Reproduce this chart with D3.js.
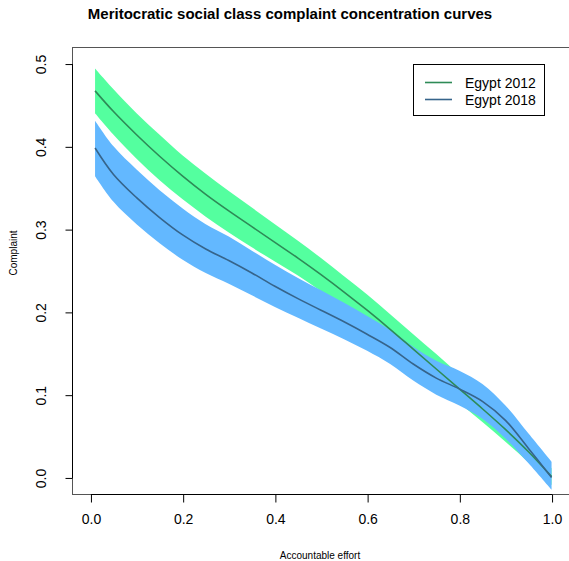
<!DOCTYPE html>
<html>
<head>
<meta charset="utf-8">
<script src="https://cdn.jsdelivr.net/npm/d3@7/dist/d3.min.js"></script>
<style>
  html, body { margin: 0; padding: 0; background: #fff; }
  svg { display: block; font-family: "Liberation Sans", Arial, Helvetica, sans-serif; }
</style>
</head>
<body>
<svg id="chart" width="569" height="561"></svg>
<script>
// Accountable effort grid (shared by both surveys)
const effort = [0.01, 0.05, 0.10, 0.15, 0.20, 0.25, 0.30, 0.35, 0.40, 0.45, 0.50,
                0.55, 0.60, 0.65, 0.70, 0.75, 0.80, 0.85, 0.90, 0.95, 1.00];

// Egypt 2012: concentration curve with its confidence band
const egypt2012 = [0.467, 0.442, 0.414, 0.388, 0.364, 0.342, 0.322, 0.303, 0.284, 0.265, 0.245,
                   0.224, 0.202, 0.179, 0.155, 0.131, 0.107, 0.083, 0.058, 0.031, 0.001];
const egypt2012Upper = [0.494, 0.469, 0.440, 0.414, 0.389, 0.367, 0.346, 0.326, 0.306, 0.286, 0.265,
                        0.243, 0.221, 0.197, 0.173, 0.149, 0.124, 0.099, 0.073, 0.044, 0.011];
const egypt2012Lower = [0.440, 0.414, 0.385, 0.359, 0.336, 0.315, 0.296, 0.278, 0.261, 0.244, 0.225,
                        0.205, 0.183, 0.161, 0.137, 0.113, 0.090, 0.067, 0.043, 0.018, -0.009];

// Egypt 2018: concentration curve with its confidence band
const egypt2018 = [0.398, 0.366, 0.338, 0.314, 0.293, 0.276, 0.262, 0.247, 0.231, 0.216, 0.202,
                   0.188, 0.173, 0.157, 0.137, 0.120, 0.107, 0.092, 0.069, 0.035, 0.000];
const egypt2018Upper = [0.431, 0.400, 0.372, 0.347, 0.325, 0.306, 0.291, 0.274, 0.257, 0.241, 0.226,
                        0.211, 0.195, 0.178, 0.158, 0.141, 0.129, 0.113, 0.087, 0.053, 0.019];
const egypt2018Lower = [0.364, 0.333, 0.306, 0.283, 0.263, 0.247, 0.234, 0.220, 0.206, 0.193, 0.180,
                        0.167, 0.153, 0.137, 0.117, 0.100, 0.087, 0.071, 0.047, 0.017, -0.015];

// Axis ticks and legend entries
const xTicks = [0.0, 0.2, 0.4, 0.6, 0.8, 1.0];
const yTicks = [0.0, 0.1, 0.2, 0.3, 0.4, 0.5];
const seriesNames = ["Egypt 2012", "Egypt 2018"];
const lineColors = ["#2E8B57", "#36648B"];
const bandColors = ["#54FF9F", "#63B8FF"];

const svg = d3.select("#chart");

const box = { left: 72, right: 570, top: 47, bottom: 494 };
const x = d3.scaleLinear().domain([-0.04, 1.04]).range([box.left, box.right]);
const y = d3.scaleLinear().domain([-0.02, 0.52]).range([box.bottom, box.top]);

const rows = (mean, lo, hi) => effort.map((e, i) => ({ x: e, m: mean[i], lo: lo[i], hi: hi[i] }));
const series = [
  rows(egypt2012, egypt2012Lower, egypt2012Upper),
  rows(egypt2018, egypt2018Lower, egypt2018Upper)
];

const curve = d3.curveCatmullRom.alpha(0.5);
const band = d3.area().x(d => x(d.x)).y0(d => y(d.lo)).y1(d => y(d.hi)).curve(curve);
const line = d3.line().x(d => x(d.x)).y(d => y(d.m)).curve(curve);

// clip to the plotting region
svg.append("clipPath").attr("id", "plotclip")
  .append("rect").attr("x", box.left).attr("y", box.top)
  .attr("width", box.right - box.left).attr("height", box.bottom - box.top);

const plot = svg.append("g").attr("clip-path", "url(#plotclip)");

// confidence bands first, then the curves on top
series.forEach((s, i) => {
  plot.append("path").datum(s).attr("d", band).attr("fill", bandColors[i]).attr("stroke", "none");
});
series.forEach((s, i) => {
  plot.append("path").datum(s).attr("d", line).attr("fill", "none")
    .attr("stroke", lineColors[i]).attr("stroke-width", 1.6);
});

// plot frame
svg.append("rect")
  .attr("x", box.left + 0.5).attr("y", box.top + 0.5)
  .attr("width", box.right - box.left).attr("height", box.bottom - box.top)
  .attr("fill", "none").attr("stroke", "#555").attr("stroke-width", 1);

// x axis
const xAxis = d3.axisBottom(x).tickValues(xTicks).tickFormat(d3.format(".1f"))
  .tickSize(8).tickSizeOuter(0).tickPadding(12);
const gx = svg.append("g").attr("transform", `translate(0.5,${box.bottom + 0.5})`).call(xAxis);
gx.select(".domain").attr("d", `M${x(xTicks[0])},0H${x(xTicks[xTicks.length - 1])}`)
  .attr("stroke", "#000");
gx.selectAll(".tick line").attr("stroke", "#000");
gx.selectAll(".tick text").attr("font-size", 14).attr("fill", "#000")
  .attr("font-family", "Liberation Sans, Arial, sans-serif");

// y axis with rotated labels
const yAxis = d3.axisLeft(y).tickValues(yTicks).tickFormat(d3.format(".1f"))
  .tickSize(7).tickSizeOuter(0);
const gy = svg.append("g").attr("transform", `translate(${box.left + 0.5},0.5)`).call(yAxis);
gy.select(".domain").attr("d", `M0,${y(yTicks[0])}V${y(yTicks[yTicks.length - 1])}`)
  .attr("stroke", "#000");
gy.selectAll(".tick line").attr("stroke", "#000");
gy.selectAll(".tick text")
  .attr("transform", "rotate(-90)")
  .attr("x", 0).attr("y", -27).attr("dy", 0)
  .attr("text-anchor", "middle")
  .attr("font-size", 14).attr("fill", "#000")
  .attr("font-family", "Liberation Sans, Arial, sans-serif");

// titles
svg.append("text").attr("x", 290).attr("y", 19).attr("text-anchor", "middle")
  .attr("font-size", 15).attr("font-weight", "bold")
  .text("Meritocratic social class complaint concentration curves");
svg.append("text").attr("x", 320).attr("y", 559).attr("text-anchor", "middle")
  .attr("font-size", 10).text("Accountable effort");
svg.append("text").attr("transform", "translate(17,253) rotate(-90)").attr("text-anchor", "middle")
  .attr("font-size", 10).text("Complaint");

// legend
const lg = svg.append("g");
lg.append("rect").attr("x", 413.5).attr("y", 64.5).attr("width", 131).attr("height", 51)
  .attr("fill", "#fff").attr("stroke", "#000").attr("stroke-width", 1);
seriesNames.forEach((name, i) => {
  const ly = 82.5 + i * 17;
  lg.append("line").attr("x1", 425).attr("x2", 452).attr("y1", ly).attr("y2", ly)
    .attr("stroke", lineColors[i]).attr("stroke-width", 1.6);
  lg.append("text").attr("x", 465).attr("y", ly + 5).attr("font-size", 14).text(name);
});
</script>
</body>
</html>
